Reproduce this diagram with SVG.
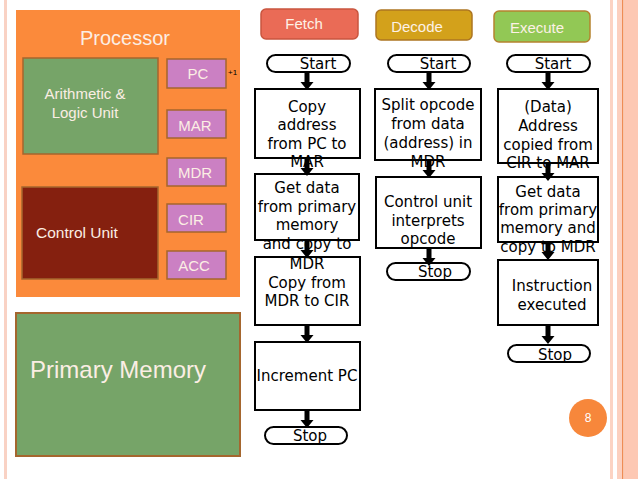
<svg xmlns="http://www.w3.org/2000/svg" width="638" height="479" viewBox="0 0 638 479">
<style>
.reg{fill:#cb80c3;stroke:#a5662e;stroke-width:1.5}
.rt{font-family:"Liberation Sans",Arial,sans-serif;font-size:15px;fill:#fbeee4;text-anchor:middle}
.lt{font-family:"Liberation Sans",Arial,sans-serif;fill:#fbeee4}
.box{fill:#fff;stroke:#000;stroke-width:2}
.term{fill:#fff;stroke:#000;stroke-width:2}
.ft{font-family:"DejaVu Sans","Noto Sans",sans-serif;font-size:15px;fill:#000;text-anchor:middle}
.hd{font-family:"Liberation Sans",Arial,sans-serif;font-size:15px;fill:#fdf1e6;text-anchor:middle}
.arr{fill:#000}
</style>
<defs>
<path id="ar" d="M-2.5,0 H2.5 V10 H6.5 L0,18 L-6.5,10 H-2.5 Z"/>
</defs>
<rect width="638" height="479" fill="#fff"/>
<g id="decor">
<rect x="4" y="0" width="3" height="479" fill="#f9d2c4"/>
<rect x="610" y="0" width="3" height="479" fill="#fcd3c3"/>
<rect x="617" y="0" width="5" height="479" fill="#fcd0bf"/>
<rect x="622" y="0" width="1.5" height="479" fill="#ef8c55"/>
<rect x="624" y="0" width="14" height="479" fill="#fdc8b3"/>
</g>
<g id="processor">
<rect x="16" y="10" width="224" height="287" fill="#fb8a3b"/>
<text class="lt" x="125" y="45" font-size="20" text-anchor="middle">Processor</text>
</g>
<g id="alu">
<rect x="23" y="58" width="135" height="96" fill="#76a468" stroke="#a5662e" stroke-width="1.5"/>
<text class="lt" x="85" y="99" font-size="15" text-anchor="middle">Arithmetic &amp;</text>
<text class="lt" x="85" y="118" font-size="15" text-anchor="middle">Logic Unit</text>
</g>
<g id="control-unit">
<rect x="22" y="187" width="136" height="92" fill="#85200f" stroke="#a5662e" stroke-width="1.5"/>
<text class="lt" x="36" y="238" font-size="15.5">Control Unit</text>
</g>
<g id="pc">
<rect class="reg" x="167" y="59" width="59" height="29"/>
<text class="rt" x="198" y="79">PC</text>
<text x="228" y="75" font-family="Liberation Sans,Arial,sans-serif" font-size="8" fill="#000">+1</text>
</g>
<g id="mar">
<rect class="reg" x="167" y="110" width="59" height="28"/>
<text class="rt" x="195" y="131">MAR</text>
</g>
<g id="mdr">
<rect class="reg" x="167" y="158" width="59" height="28"/>
<text class="rt" x="195" y="178">MDR</text>
</g>
<g id="cir">
<rect class="reg" x="167" y="204" width="59" height="28"/>
<text class="rt" x="191" y="225">CIR</text>
</g>
<g id="acc">
<rect class="reg" x="167" y="251" width="59" height="28"/>
<text class="rt" x="194" y="271">ACC</text>
</g>
<g id="primary-memory">
<rect x="16" y="313" width="224" height="143" fill="#76a468" stroke="#a5662e" stroke-width="2"/>
<text class="lt" x="30" y="378" font-size="24">Primary Memory</text>
</g>

<g id="fetch-header">
<rect x="261" y="9" width="97" height="30" rx="5" fill="#ea6b56" stroke="#c9563f" stroke-width="1.5"/>
<text class="hd" x="304" y="29">Fetch</text>
</g>
<g id="decode-header">
<rect x="376" y="10" width="96" height="30" rx="5" fill="#d3a11b" stroke="#ad7522" stroke-width="1.5"/>
<text class="hd" x="417" y="32">Decode</text>
</g>
<g id="execute-header">
<rect x="494" y="11" width="96" height="31" rx="5" fill="#92c855" stroke="#b5822e" stroke-width="1.5"/>
<text class="hd" x="537" y="33">Execute</text>
</g>

<g id="f-start">
<rect class="term" x="267" y="55" width="83" height="17" rx="8.5"/>
<text class="ft" x="318" y="69">Start</text>
</g>
<g id="f-copy-address">
<rect class="box" x="255" y="89" width="105" height="69"/>
<text class="ft" x="307" y="112">Copy</text>
<text class="ft" x="307" y="130">address</text>
<text class="ft" x="307" y="149">from PC to</text>
<text class="ft" x="307" y="167">MAR</text>
</g>
<g id="f-copy-mdr">
<rect class="box" x="255" y="257" width="105" height="68"/>
<text class="ft" x="307" y="288">Copy from</text>
<text class="ft" x="307" y="306">MDR to CIR</text>
</g>
<g id="f-get-data">
<rect class="box" x="255" y="174" width="104" height="66"/>
<text class="ft" x="307" y="193">Get data</text>
<text class="ft" x="307" y="212">from primary</text>
<text class="ft" x="307" y="230">memory</text>
<text class="ft" x="307" y="249">and copy to</text>
<text class="ft" x="307" y="269">MDR</text>
</g>
<g id="f-increment">
<rect class="box" x="255" y="342" width="105" height="68"/>
<text class="ft" x="307" y="381">Increment PC</text>
</g>
<g id="f-stop">
<rect class="term" x="265" y="427" width="82" height="17" rx="8.5"/>
<text class="ft" x="310" y="441">Stop</text>
</g>

<g id="d-start">
<rect class="term" x="388" y="55" width="82" height="17" rx="8.5"/>
<text class="ft" x="438" y="69">Start</text>
</g>
<g id="d-split">
<rect class="box" x="375" y="89" width="106" height="71"/>
<text class="ft" x="428" y="110">Split opcode</text>
<text class="ft" x="428" y="129">from data</text>
<text class="ft" x="428" y="148">(address) in</text>
<text class="ft" x="428" y="167">MDR</text>
</g>
<g id="d-interpret">
<rect class="box" x="376" y="177" width="105" height="71"/>
<text class="ft" x="428" y="207">Control unit</text>
<text class="ft" x="428" y="226">interprets</text>
<text class="ft" x="428" y="244">opcode</text>
</g>
<g id="d-stop">
<rect class="term" x="387" y="263" width="83" height="17" rx="8.5"/>
<text class="ft" x="435" y="277">Stop</text>
</g>

<g id="e-start">
<rect class="term" x="507" y="55" width="83" height="17" rx="8.5"/>
<text class="ft" x="553" y="69">Start</text>
</g>
<g id="e-address">
<rect class="box" x="498" y="89" width="100" height="74"/>
<text class="ft" x="548" y="112">(Data)</text>
<text class="ft" x="548" y="131">Address</text>
<text class="ft" x="548" y="150">copied from</text>
<text class="ft" x="548" y="168">CIR to MAR</text>
</g>
<g id="e-get-data">
<rect class="box" x="498" y="177" width="100" height="65"/>
<text class="ft" x="548" y="197">Get data</text>
<text class="ft" x="548" y="215">from primary</text>
<text class="ft" x="548" y="233">memory and</text>
<text class="ft" x="548" y="252">copy to MDR</text>
</g>
<g id="e-execute">
<rect class="box" x="498" y="260" width="100" height="65"/>
<text class="ft" x="552" y="291">Instruction</text>
<text class="ft" x="552" y="310">executed</text>
</g>
<g id="e-stop">
<rect class="term" x="508" y="345" width="82" height="17" rx="8.5"/>
<text class="ft" x="555" y="360">Stop</text>
</g>

<g id="connectors" class="arr">
<use href="#ar" x="307" y="72"/>
<use href="#ar" x="307" y="158"/>
<use href="#ar" x="307" y="240"/>
<use href="#ar" x="307" y="325"/>
<use href="#ar" x="307" y="410"/>
<use href="#ar" x="429" y="72"/>
<use href="#ar" x="429" y="160"/>
<use href="#ar" x="429" y="248"/>
<use href="#ar" x="548" y="72"/>
<use href="#ar" x="548" y="163"/>
<use href="#ar" x="548" y="242"/>
<use href="#ar" x="548" y="326"/>
</g>

<g id="page-number">
<circle cx="588" cy="418" r="19" fill="#f7873b"/>
<text x="588" y="422" font-family="Liberation Sans,Arial,sans-serif" font-size="12" fill="#fff" text-anchor="middle">8</text>
</g>
</svg>
